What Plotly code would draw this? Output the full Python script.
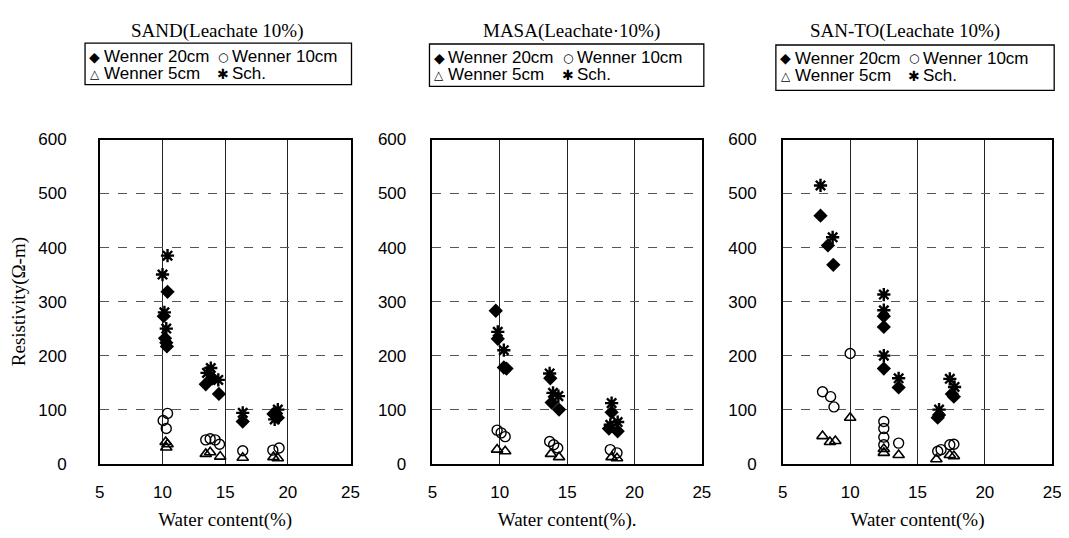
import plotly.graph_objects as go

# ---------------- data ----------------
panel_titles = ["SAND(Leachate 10%)", "MASA(Leachate\u00b710%)", "SAN-TO(Leachate 10%)"]
series_names = ["Wenner 20cm", "Wenner 10cm", "Wenner 5cm", "Sch."]
x_ticks = [5, 10, 15, 20, 25]
y_ticks = [0, 100, 200, 300, 400, 500, 600]

sand_w20_x = [10.4, 10.1, 10.2, 10.3, 10.35, 13.45, 14.0, 14.5, 16.4, 18.85, 19.2]
sand_w20_y = [318, 273, 232, 224, 217, 147, 158, 129, 78, 92, 85]
sand_w10_x = [10.4, 10.05, 10.3, 13.45, 13.8, 14.2, 14.55, 16.4, 18.8, 19.3]
sand_w10_y = [93, 80, 65, 44, 46, 44, 36, 24, 25, 29]
sand_w5_x = [10.25, 10.4, 10.3, 13.45, 13.8, 14.6, 16.4, 18.85, 19.2]
sand_w5_y = [40, 36, 30, 18, 21, 13, 11, 12, 10]
sand_sch_x = [10.4, 10.0, 10.15, 10.3, 13.55, 13.85, 14.45, 16.4, 18.95, 19.2]
sand_sch_y = [385, 350, 280, 250, 168, 177, 155, 94, 82, 100]

masa_w20_x = [9.7, 9.85, 10.3, 10.5, 13.75, 13.85, 14.4, 18.3, 18.1, 18.75]
masa_w20_y = [283, 231, 178, 176, 158, 113, 100, 95, 65, 60]
masa_w10_x = [9.8, 10.1, 10.4, 13.7, 14.0, 14.3, 18.2, 18.7]
masa_w10_y = [62, 57, 50, 41, 35, 29, 26, 20]
masa_w5_x = [9.8, 10.4, 13.8, 14.4, 18.3, 18.7]
masa_w5_y = [26, 23, 18, 12, 12, 10]
masa_sch_x = [9.85, 10.3, 13.7, 13.95, 14.35, 18.3, 18.2, 18.75]
masa_sch_y = [244, 210, 167, 131, 125, 112, 72, 77]

santo_w20_x = [7.8, 8.35, 8.75, 12.5, 12.5, 12.5, 13.6, 16.5, 16.6, 17.55, 17.7]
santo_w20_y = [459, 404, 368, 273, 253, 176, 141, 85, 90, 129, 124]
santo_w10_x = [10.0, 7.95, 8.55, 8.8, 12.5, 12.5, 12.5, 12.5, 13.6, 16.5, 16.75, 17.4, 17.7]
santo_w10_y = [204, 133, 124, 105, 78, 65, 49, 35, 38, 23, 26, 35, 36]
santo_w5_x = [10.0, 7.95, 8.5, 8.9, 12.5, 12.5, 13.6, 16.4, 17.4, 17.7]
santo_w5_y = [85, 51, 40, 42, 27, 20, 16, 8, 16, 14]
santo_sch_x = [7.8, 8.7, 12.5, 12.5, 12.5, 13.6, 16.6, 17.4, 17.75]
santo_sch_y = [515, 419, 313, 284, 200, 158, 100, 157, 142]

panels = [
    [(sand_w20_x, sand_w20_y), (sand_w10_x, sand_w10_y), (sand_w5_x, sand_w5_y), (sand_sch_x, sand_sch_y)],
    [(masa_w20_x, masa_w20_y), (masa_w10_x, masa_w10_y), (masa_w5_x, masa_w5_y), (masa_sch_x, masa_sch_y)],
    [(santo_w20_x, santo_w20_y), (santo_w10_x, santo_w10_y), (santo_w5_x, santo_w5_y), (santo_sch_x, santo_sch_y)],
]

# ---------------- layout constants ----------------
W, H = 1069, 538
plot_px = [(88, 342), (425, 698), (780, 1053)]
top_px, bot_px = 127, 463
title_cx = [207, 566, 904]
legend_boxes = [(73, 27, 343, 70), (422, 28, 700, 72), (773, 29, 1055, 76)]

styles = [
    dict(symbol="diamond", size=11, color="black", line=dict(width=0, color="black")),
    dict(symbol="circle-open", size=10, color="black", line=dict(width=1.4, color="black")),
    dict(symbol="triangle-up-open", size=10, color="black", line=dict(width=1.6, color="black")),
    dict(symbol="asterisk-open", size=11, color="black", line=dict(width=2.4, color="black")),
]
legend_glyphs = ["\u25c6", "\u25cb", "\u25b3", "\u2731"]
legend_glyph_sizes = [14, 12, 12, 14]

fig = go.Figure()
serif = "Liberation Serif, Times New Roman, serif"
sans = "Liberation Sans, Arial, sans-serif"
narrow = "Liberation Sans Narrow, Arial Narrow, Liberation Sans, sans-serif"

annotations = []
shapes = []
for p, data in enumerate(panels):
    ax = "" if p == 0 else str(p + 1)
    for s, (xs, ys) in enumerate(data):
        fig.add_trace(go.Scatter(
            x=xs, y=ys, mode="markers", name=series_names[s],
            marker=styles[s], showlegend=False,
            xaxis="x" + ax, yaxis="y" + ax,
        ))
    x0, x1 = plot_px[p]
    fig.layout["xaxis" + ax] = dict(
        domain=[x0 / W, x1 / W], range=[5, 25], tickvals=x_ticks,
        showline=True, mirror=True, linecolor="black", linewidth=1.5,
        showgrid=True, gridcolor="#222", gridwidth=1, zeroline=False,
        ticks="", tickfont=dict(family=narrow, size=17, color="black"),
        ticklabelstandoff=12, anchor="y" + ax,
        title=dict(text="Water content(%)" + ("." if p == 1 else ""),
                   font=dict(family=serif, size=19, color="black"), standoff=12),
    )
    fig.layout["yaxis" + ax] = dict(
        domain=[1 - bot_px / H, 1 - top_px / H], range=[0, 600], tickvals=y_ticks,
        showline=True, mirror=True, linecolor="black", linewidth=1.5,
        showgrid=True, gridcolor="#555", gridwidth=0.8, griddash="dash", zeroline=False,
        ticks="", tickfont=dict(family=narrow, size=17, color="black"),
        ticklabelstandoff=28 if p == 0 else 21, anchor="x" + ax,
        title=dict(text="Resistivity(\u03a9-m)" if p == 0 else "",
                   font=dict(family=serif, size=19, color="black"), standoff=8),
    )
    annotations.append(dict(
        text=panel_titles[p], x=title_cx[p] / W, y=1 - 15 / H, xref="paper", yref="paper",
        showarrow=False, xanchor="center", yanchor="middle",
        font=dict(family=serif, size=19, color="black"),
    ))
    bx0, by0, bx1, by1 = legend_boxes[p]
    shapes.append(dict(type="rect", xref="paper", yref="paper",
                       x0=bx0 / W, x1=bx1 / W, y0=1 - by1 / H, y1=1 - by0 / H,
                       line=dict(color="black", width=1.3), fillcolor="white", layer="above"))
    col_x = [bx0 + 10, bx0 + 140]
    row_y = [by0 + 14, by0 + 32]
    for s in range(4):
        cx = col_x[s % 2]
        cy = row_y[s // 2]
        annotations.append(dict(
            text=legend_glyphs[s], x=cx / W, y=1 - cy / H, xref="paper", yref="paper",
            showarrow=False, xanchor="center", yanchor="middle",
            font=dict(family="DejaVu Sans", size=legend_glyph_sizes[s], color="black"),
        ))
        annotations.append(dict(
            text=series_names[s], x=(cx + 7) / W, y=1 - cy / H, xref="paper", yref="paper",
            showarrow=False, xanchor="left", yanchor="middle",
            font=dict(family=sans, size=17, color="black"),
        ))

fig.update_layout(
    width=W, height=H, margin=dict(l=0, r=0, t=0, b=0),
    paper_bgcolor="white", plot_bgcolor="white",
    annotations=annotations, shapes=shapes, showlegend=False,
)
fig.write_html("out.html")
